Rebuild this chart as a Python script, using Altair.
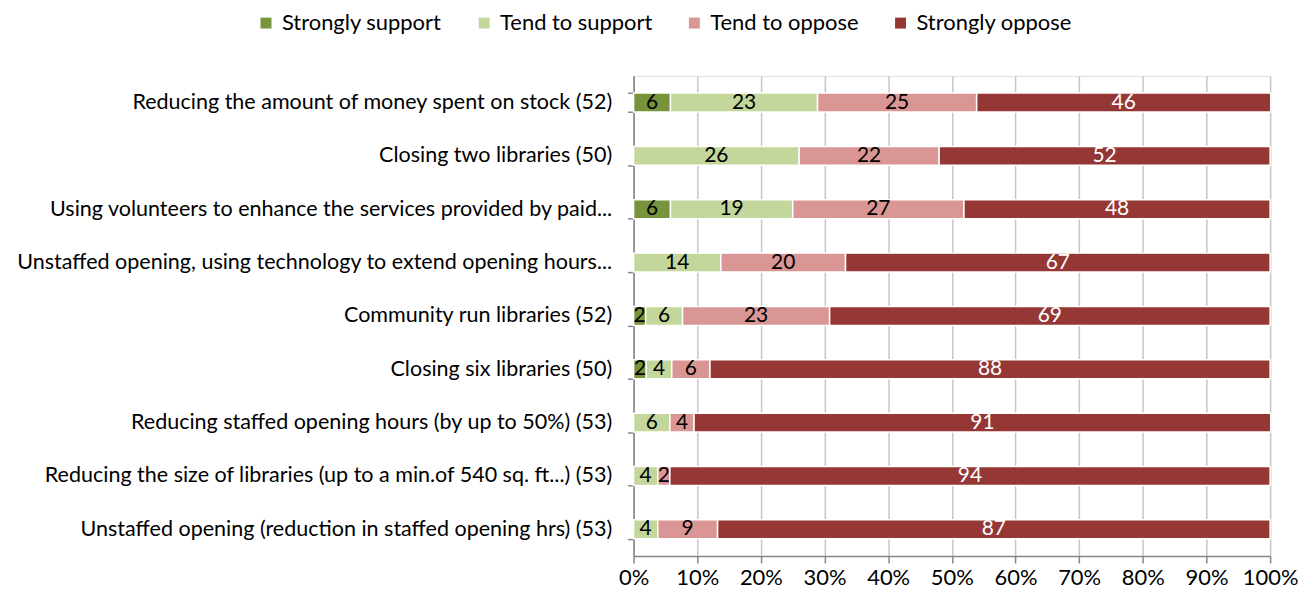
import altair as alt
import pandas as pd

items = [
    "Reducing the amount of money spent on stock (52)",
    "Closing two libraries (50)",
    "Using volunteers to enhance the services provided by paid...",
    "Unstaffed opening, using technology to extend opening hours...",
    "Community run libraries (52)",
    "Closing six libraries (50)",
    "Reducing staffed opening hours (by up to 50%) (53)",
    "Reducing the size of libraries (up to a min.of 540 sq. ft...) (53)",
    "Unstaffed opening (reduction in staffed opening hrs) (53)",
]
responses = ["Strongly support", "Tend to support", "Tend to oppose", "Strongly oppose"]
colors = ["#77933C", "#C3D69B", "#D99694", "#953735"]

strongly_support = [5.8, 0, 5.8, 0, 1.9, 2.0, 0, 0, 0]
tend_support = [23.1, 26.0, 19.2, 13.7, 5.8, 4.0, 5.7, 3.8, 3.8]
tend_oppose = [25.0, 22.0, 26.9, 19.6, 23.1, 6.0, 3.8, 1.9, 9.4]
strongly_oppose = [46.2, 52.0, 48.1, 66.7, 69.2, 88.0, 90.6, 94.3, 86.8]

x_ticks = list(range(0, 101, 10))

series = [strongly_support, tend_support, tend_oppose, strongly_oppose]
rows = []
for k, (resp, vals) in enumerate(zip(responses, series)):
    for item, v in zip(items, vals):
        if v > 0:
            rows.append({"item": item, "resp": resp, "order": k, "pct": v})
df = pd.DataFrame(rows)

FONT = "Lato"
FS = 22
YFS = 21.6
TFS = 21

base = alt.Chart(df).transform_stack(
    stack="pct", groupby=["item"], as_=["x0", "x1"], sort=[alt.SortField("order")]
).transform_calculate(
    mid="(datum.x0 + datum.x1) / 2",
    lab="format(round(datum.pct), 'd')",
)

y_enc = alt.Y(
    "item:N",
    sort=items,
    title=None,
    scale=alt.Scale(paddingInner=0.645, paddingOuter=0.3225),
    axis=alt.Axis(
        tickBand="extent",
        tickSize=6,
        tickColor="#868686",
        domainColor="#868686",
        domainWidth=1.5,
        tickWidth=1.5,
        labelPadding=16,
        labelFontSize=YFS,
        labelColor="black",
        labelLimit=1000,
        labelFont=FONT,
    ),
)

x_scale = alt.Scale(domain=[0, 100], nice=False)

bars = base.mark_bar(stroke="white", strokeWidth=1.5).encode(
    y=y_enc,
    x=alt.X(
        "x0:Q",
        scale=x_scale,
        title=None,
        axis=alt.Axis(
            values=x_ticks,
            labelExpr="datum.value + '%'",
            labelOverlap=False,
            labelFlush=False,
            grid=True,
            gridColor="#c6c6c6",
            gridWidth=1.5,
            domainColor="#868686",
            domainWidth=1.5,
            tickColor="#868686",
            tickWidth=1.5,
            tickSize=7,
            labelPadding=5,
            labelFontSize=FS,
            labelColor="black",
            labelFont=FONT,
        ),
    ),
    x2="x1:Q",
    color=alt.Color(
        "resp:N",
        sort=responses,
        scale=alt.Scale(domain=responses, range=colors),
        legend=alt.Legend(
            title=None,
            orient="none",
            direction="horizontal",
            legendX=-380,
            legendY=-64,
            symbolType="square",
            symbolSize=121,
            symbolStrokeWidth=0,
            labelFontSize=FS,
            labelFont=FONT,
            labelColor="black",
            labelLimit=400,
            columnPadding=31,
            labelOffset=5,
        ),
    ),
    order=alt.Order("order:Q"),
)

texts = base.mark_text(fontSize=TFS, font=FONT, baseline="middle").encode(
    y=alt.Y("item:N", sort=items),
    x=alt.X("mid:Q", scale=x_scale),
    text="lab:N",
    color=alt.condition(
        alt.datum.resp == "Strongly oppose", alt.value("white"), alt.value("black")
    ),
)

chart = (
    alt.layer(bars, texts)
    .properties(
        width=639,
        height=482,
        autosize=alt.AutoSizeParams(type="none"),
        padding={"left": 628, "top": 67, "right": 28, "bottom": 38},
    )
    .configure_view(stroke=None)
    .configure(font=FONT)
)

chart.save("out.html", embed_options={"renderer": "svg", "actions": False})
